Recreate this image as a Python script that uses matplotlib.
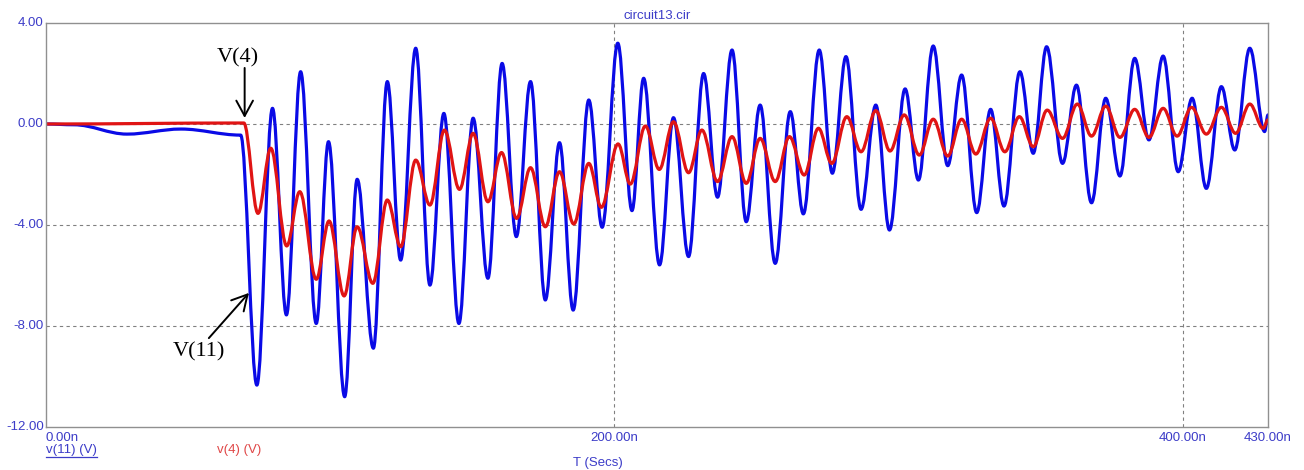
import numpy as np
import matplotlib.pyplot as plt
from matplotlib.path import Path
from matplotlib.patches import PathPatch

# turning points (time in ns, volts)
v11_t = [0, 9.8, 28.5, 47.5, 68.5, 74.2,
         79.7, 84.6, 89.6, 95.1, 99.4, 105.1, 109.5, 115.2, 120.1, 124.8, 130.1, 135.1,
         140.0, 145.3, 150.3, 155.5, 160.5, 165.5, 170.5, 175.7, 180.7, 185.5, 191.0, 195.7,
         201.2, 206.2, 210.3, 215.9, 220.8, 226.1, 231.4, 236.3, 241.4, 246.4, 251.3, 256.6,
         261.9, 266.5, 272.1, 276.7, 281.5, 286.8, 292.0, 296.8, 302.3, 307.0, 312.2, 317.3,
         322.2, 327.5, 332.4, 337.1, 342.7, 347.4, 352.1, 357.7, 362.6, 367.9, 372.9, 377.9,
         383.1, 388.1, 393.1, 398.4, 403.3, 408.3, 413.6, 418.3, 423.6, 428.8, 430.0]
v11_v = [0, -0.03, -0.40, -0.20, -0.44, -10.34,
         0.62, -7.56, 2.07, -7.90, -0.70, -10.80, -2.19, -8.88, 1.68, -5.39, 3.00, -6.38,
         0.42, -7.90, 0.23, -6.11, 2.40, -4.46, 1.68, -6.97, -0.74, -7.37, 0.95, -4.09,
         3.20, -3.43, 1.81, -5.58, 0.25, -5.25, 2.00, -2.90, 2.93, -3.87, 0.75, -5.52,
         0.49, -3.56, 2.93, -1.95, 2.67, -3.38, 0.75, -4.20, 1.39, -2.22, 3.09, -1.65,
         1.94, -3.51, 0.58, -3.25, 2.07, -1.16, 3.06, -1.56, 1.54, -3.12, 1.02, -2.06,
         2.60, -0.63, 2.69, -1.89, 1.02, -2.55, 1.48, -1.03, 3.00, -0.30, 0.36]

v4_t = [0, 69.6, 74.6, 79.1, 84.7, 89.3, 95.1, 99.6, 104.9, 109.5,
        115.0, 120.1, 124.8, 130.1, 135.1, 140.2, 145.5, 150.3, 155.5, 160.3, 165.6, 170.5,
        175.7, 180.7, 185.7, 191.0, 195.4, 201.3, 205.6, 210.9, 215.8, 220.8, 226.1, 230.8,
        236.3, 241.4, 246.4, 251.3, 256.6, 261.6, 266.8, 271.8, 276.5, 281.8, 286.8, 292.0,
        297.0, 302.0, 307.3, 312.2, 317.3, 322.2, 327.2, 332.4, 337.4, 342.5, 347.4, 352.3,
        357.7, 362.9, 367.9, 372.9, 377.9, 383.1, 388.1, 393.1, 398.0, 403.1, 408.3, 413.6,
        418.6, 423.6, 428.3, 430.0]
v4_v = [0, 0.04, -3.54, -0.96, -4.83, -2.68, -6.15, -3.84, -6.81, -4.07,
        -6.31, -3.01, -4.86, -1.43, -3.21, -0.24, -2.59, -0.37, -3.08, -1.13, -3.74, -1.73,
        -4.07, -1.89, -3.96, -1.56, -3.30, -0.79, -2.38, -0.08, -1.80, 0.09, -1.93, -0.24,
        -2.28, -0.50, -2.35, -0.57, -2.28, -0.50, -2.02, -0.17, -1.56, 0.29, -1.10, 0.53,
        -1.07, 0.36, -1.23, 0.19, -1.27, 0.19, -1.19, 0.23, -1.10, 0.29, -0.90, 0.55,
        -0.57, 0.79, -0.48, 0.71, -0.53, 0.58, -0.53, 0.62, -0.48, 0.66, -0.40, 0.66,
        -0.37, 0.79, -0.17, 0.16]

yticks = [4, 0, -4, -8, -12]
ytick_labels = ['4.00', '0.00', '-4.00', '-8.00', '-12.00']
xticks = [0, 200, 400, 430]
xtick_labels = ['0.00n', '200.00n', '400.00n', '430.00n']

lab_col = '#3c3cc8'
blue = '#0a0ae6'
red = '#e01414'


def trace(ax, t, v, color):
    # bezier segments with flat tangents at each turning point
    verts = [(t[0], v[0])]
    codes = [Path.MOVETO]
    for i in range(len(t) - 1):
        dt = t[i + 1] - t[i]
        verts += [(t[i] + 0.36 * dt, v[i]), (t[i + 1] - 0.36 * dt, v[i + 1]),
                  (t[i + 1], v[i + 1])]
        codes += [Path.CURVE4] * 3
    ax.add_patch(PathPatch(Path(verts, codes), fill=False, edgecolor=color,
                           lw=2.3, joinstyle='round', capstyle='round'))


fig = plt.figure(figsize=(13.04, 4.70), dpi=100)
ax = fig.add_axes([46/1304, 43/470, 1222/1304, 404/470])

trace(ax, v11_t, v11_v, blue)
trace(ax, v4_t, v4_v, red)

ax.set_xlim(0, 430)
ax.set_ylim(-12, 4)

# grid
for y in [0, -4, -8]:
    ax.axhline(y, color='#808080', lw=0.8, ls=(0, (3, 3)), zorder=0)
for x in [200, 400]:
    ax.axvline(x, color='#808080', lw=0.8, ls=(0, (3, 3)), zorder=0)

for s in ax.spines.values():
    s.set_color('#909090')
    s.set_linewidth(1.0)

ax.set_xticks([])
ax.set_yticks([])

for y, s in zip(yticks, ytick_labels):
    ax.text(-0.8, y, s, ha='right', va='center', fontsize=9.5, color=lab_col,
            family='Liberation Sans')
for x, s in zip(xticks, xtick_labels):
    ha = 'left' if x == 0 else 'center'
    ax.text(x, -12.2, s, ha=ha, va='top', fontsize=9.5, color=lab_col,
            family='Liberation Sans')

fig.text(657/1304, 1 - 16/470, 'circuit13.cir', ha='center', va='center',
         fontsize=9.5, color=lab_col, family='Liberation Sans')
fig.text(598/1304, 1 - 463/470, 'T (Secs)', ha='center', va='center',
         fontsize=9.5, color=lab_col, family='Liberation Sans')
t1 = fig.text(46/1304, 1 - 450/470, 'v(11) (V)', ha='left', va='center',
              fontsize=9.5, color=lab_col, family='Liberation Sans')
fig.text(217/1304, 1 - 450/470, 'v(4) (V)', ha='left', va='center',
         fontsize=9.5, color='#e04848', family='Liberation Sans')

# underline under v(11) label
fig.canvas.draw()
bb = t1.get_window_extent()
fig.add_artist(plt.Line2D([bb.x0 / 1304, bb.x1 / 1304], [(bb.y0 - 1) / 470] * 2,
                          color=lab_col, lw=0.9))

# annotations
ax.text(67.5, 2.6, 'V(4)', ha='center', va='center', fontsize=16,
        family='Liberation Serif', color='black')
ax.annotate('', xy=(69.9, 0.24), xytext=(69.9, 2.22),
            arrowprops=dict(arrowstyle='->,head_length=1.1,head_width=0.6',
                            color='black', lw=1.4, shrinkA=0, shrinkB=0))
ax.text(53.8, -9.03, 'V(11)', ha='center', va='center', fontsize=16,
        family='Liberation Serif', color='black')
ax.annotate('', xy=(71.4, -6.69), xytext=(57.3, -8.48),
            arrowprops=dict(arrowstyle='->,head_length=1.1,head_width=0.6',
                            color='black', lw=1.4, shrinkA=0, shrinkB=0))

fig.savefig('out.png', dpi=100)
